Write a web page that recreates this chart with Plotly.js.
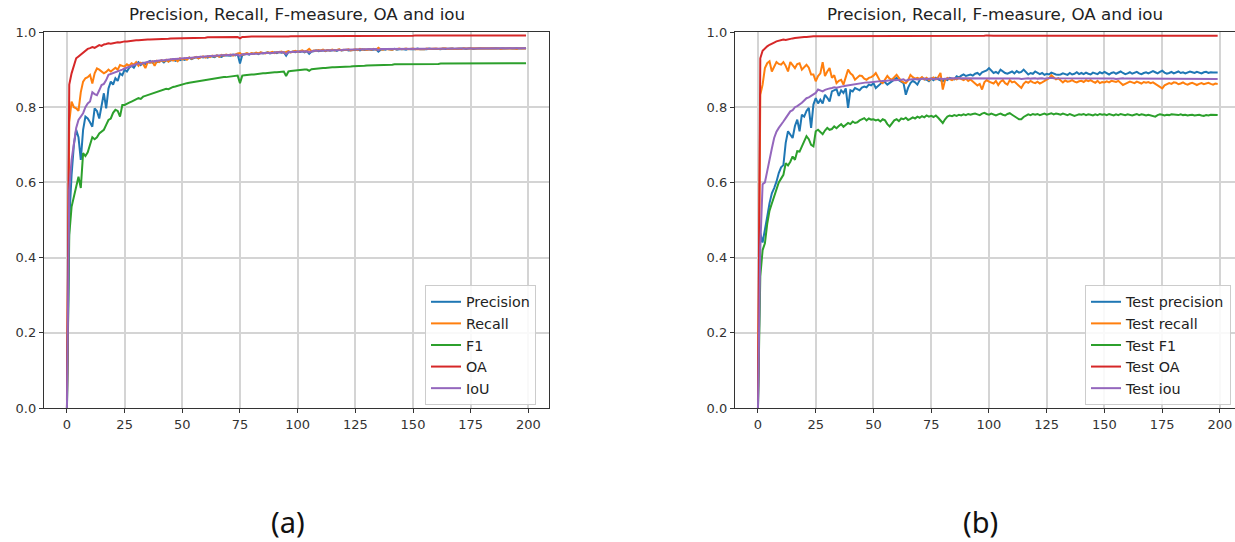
<!DOCTYPE html>
<html>
<head>
<meta charset="utf-8">
<script src="https://cdn.plot.ly/plotly-3.0.1.min.js"></script>
<style>
html,body{margin:0;padding:0;background:#fff;}
#chart{width:1235px;height:542px;}
</style>
</head>
<body>
<div id="chart"></div>
<script>
// ---------- DATA ----------
const epochs = Array.from({length: 200}, (_, i) => i);

const trainPrecision = [
0.0,0.50,0.62,0.70,0.74,0.72,0.66,0.74,0.775,0.77,
0.76,0.748,0.797,0.79,0.77,0.80,0.837,0.797,0.85,0.868,
0.86,0.877,0.87,0.89,0.885,0.90,0.895,0.905,0.91,0.905,
0.915,0.92,0.912,0.918,0.915,0.92,0.923,0.918,0.922,0.92,
0.921,0.924,0.919,0.925,0.922,0.924,0.927,0.923,0.926,0.925,
0.928,0.926,0.93,0.932,0.928,0.931,0.933,0.93,0.934,0.932,
0.934,0.932,0.936,0.935,0.933,0.937,0.936,0.934,0.938,0.937,
0.938,0.937,0.94,0.938,0.941,0.916,0.939,0.941,0.942,0.94,
0.943,0.942,0.944,0.941,0.945,0.943,0.944,0.946,0.943,0.945,
0.946,0.944,0.947,0.945,0.946,0.937,0.947,0.946,0.948,0.946,
0.948,0.947,0.949,0.946,0.949,0.942,0.948,0.949,0.951,0.949,
0.95,0.951,0.949,0.952,0.95,0.951,0.952,0.95,0.953,0.951,
0.952,0.953,0.951,0.952,0.953,0.952,0.953,0.951,0.954,0.952,
0.953,0.954,0.952,0.953,0.954,0.948,0.953,0.954,0.953,0.955,
0.954,0.953,0.955,0.953,0.954,0.955,0.954,0.953,0.955,0.954,
0.955,0.954,0.956,0.954,0.955,0.955,0.954,0.956,0.955,0.955,
0.956,0.955,0.954,0.956,0.955,0.956,0.955,0.956,0.955,0.956,
0.955,0.956,0.956,0.955,0.956,0.957,0.955,0.956,0.956,0.957,
0.956,0.957,0.956,0.956,0.957,0.956,0.957,0.956,0.957,0.957,
0.956,0.957,0.957,0.956,0.957,0.957,0.956,0.957,0.957,0.957
];

const trainRecall = [
0.0,0.76,0.815,0.80,0.797,0.79,0.84,0.868,0.877,0.88,
0.886,0.863,0.89,0.903,0.90,0.895,0.89,0.894,0.90,0.895,
0.90,0.905,0.90,0.912,0.91,0.908,0.914,0.91,0.917,0.913,
0.92,0.91,0.918,0.915,0.904,0.92,0.918,0.922,0.91,0.923,
0.92,0.925,0.922,0.926,0.921,0.927,0.924,0.928,0.922,0.93,
0.927,0.93,0.926,0.932,0.929,0.931,0.934,0.93,0.933,0.935,
0.932,0.936,0.933,0.937,0.935,0.938,0.934,0.939,0.937,0.94,
0.938,0.94,0.937,0.941,0.943,0.944,0.939,0.942,0.944,0.941,
0.944,0.942,0.945,0.943,0.946,0.944,0.943,0.946,0.945,0.947,
0.944,0.947,0.946,0.948,0.945,0.947,0.949,0.946,0.948,0.95,
0.947,0.949,0.951,0.948,0.95,0.955,0.949,0.951,0.95,0.952,
0.951,0.953,0.95,0.952,0.951,0.953,0.951,0.952,0.954,0.951,
0.953,0.952,0.954,0.951,0.953,0.954,0.952,0.955,0.953,0.954,
0.952,0.954,0.953,0.955,0.953,0.958,0.954,0.953,0.955,0.954,
0.955,0.953,0.955,0.954,0.956,0.954,0.955,0.956,0.954,0.955,
0.956,0.954,0.955,0.956,0.955,0.954,0.956,0.955,0.956,0.955,
0.956,0.955,0.956,0.955,0.957,0.955,0.956,0.956,0.955,0.956,
0.956,0.955,0.957,0.956,0.955,0.956,0.957,0.956,0.955,0.956,
0.957,0.956,0.955,0.956,0.957,0.956,0.956,0.957,0.955,0.956,
0.957,0.956,0.956,0.957,0.956,0.955,0.957,0.956,0.956,0.956
];

const trainF1 = [
0.0,0.46,0.535,0.56,0.59,0.615,0.585,0.678,0.67,0.68,
0.70,0.72,0.715,0.72,0.73,0.735,0.74,0.753,0.766,0.77,
0.785,0.793,0.79,0.775,0.806,0.806,0.81,0.812,0.815,0.818,
0.822,0.824,0.822,0.828,0.83,0.832,0.835,0.836,0.84,0.84,
0.843,0.845,0.847,0.849,0.848,0.852,0.854,0.855,0.857,0.86,
0.862,0.862,0.864,0.865,0.866,0.867,0.868,0.869,0.87,0.871,
0.872,0.873,0.874,0.876,0.877,0.877,0.878,0.879,0.88,0.88,
0.881,0.882,0.882,0.883,0.884,0.864,0.884,0.885,0.886,0.886,
0.887,0.887,0.888,0.889,0.889,0.89,0.89,0.891,0.892,0.892,
0.893,0.893,0.894,0.894,0.895,0.883,0.895,0.896,0.897,0.897,
0.898,0.899,0.899,0.9,0.9,0.897,0.901,0.902,0.902,0.903,
0.903,0.904,0.904,0.905,0.905,0.906,0.906,0.906,0.907,0.907,
0.907,0.908,0.908,0.908,0.909,0.909,0.909,0.91,0.91,0.91,
0.911,0.911,0.911,0.912,0.912,0.912,0.912,0.913,0.913,0.913,
0.913,0.913,0.914,0.914,0.914,0.914,0.914,0.914,0.915,0.915,
0.915,0.915,0.915,0.915,0.915,0.915,0.915,0.915,0.915,0.915,
0.915,0.915,0.916,0.916,0.916,0.916,0.916,0.916,0.916,0.916,
0.916,0.916,0.916,0.916,0.916,0.916,0.916,0.916,0.916,0.916,
0.916,0.916,0.916,0.916,0.917,0.916,0.917,0.917,0.917,0.917,
0.917,0.917,0.917,0.917,0.917,0.917,0.917,0.917,0.917,0.917
];

const trainOA = [
0.02,0.86,0.89,0.91,0.93,0.935,0.94,0.945,0.95,0.955,
0.957,0.96,0.958,0.962,0.965,0.963,0.967,0.968,0.97,0.969,
0.971,0.972,0.973,0.972,0.974,0.975,0.975,0.976,0.977,0.977,
0.978,0.978,0.979,0.978,0.979,0.98,0.98,0.98,0.981,0.981,
0.981,0.982,0.982,0.982,0.982,0.983,0.983,0.983,0.983,0.984,
0.984,0.984,0.984,0.984,0.985,0.985,0.985,0.985,0.985,0.985,
0.985,0.986,0.986,0.986,0.986,0.986,0.986,0.986,0.987,0.987,
0.987,0.987,0.987,0.987,0.987,0.983,0.987,0.987,0.988,0.988,
0.988,0.988,0.988,0.988,0.988,0.988,0.988,0.988,0.988,0.988,
0.988,0.988,0.988,0.988,0.988,0.986,0.988,0.989,0.989,0.989,
0.989,0.989,0.989,0.989,0.989,0.988,0.989,0.989,0.989,0.989,
0.989,0.99,0.989,0.99,0.99,0.99,0.99,0.99,0.99,0.99,
0.99,0.99,0.99,0.99,0.99,0.99,0.99,0.99,0.99,0.99,
0.99,0.99,0.99,0.99,0.99,0.989,0.99,0.99,0.99,0.99,
0.99,0.99,0.99,0.99,0.99,0.99,0.99,0.99,0.99,0.99,
0.99,0.991,0.99,0.991,0.991,0.991,0.991,0.991,0.991,0.991,
0.991,0.991,0.991,0.991,0.991,0.991,0.991,0.991,0.991,0.991,
0.991,0.991,0.991,0.991,0.991,0.991,0.991,0.991,0.991,0.991,
0.991,0.991,0.991,0.991,0.991,0.991,0.991,0.991,0.991,0.991,
0.991,0.991,0.991,0.991,0.991,0.991,0.991,0.991,0.991,0.991
];

const trainIoU = [
0.0,0.58,0.66,0.71,0.745,0.766,0.775,0.784,0.80,0.81,
0.815,0.84,0.835,0.832,0.845,0.859,0.862,0.872,0.886,0.888,
0.89,0.894,0.895,0.898,0.90,0.903,0.905,0.907,0.909,0.911,
0.913,0.917,0.915,0.918,0.919,0.92,0.921,0.922,0.922,0.923,
0.924,0.925,0.925,0.926,0.927,0.927,0.928,0.928,0.929,0.929,
0.93,0.93,0.931,0.931,0.932,0.932,0.933,0.933,0.934,0.934,
0.935,0.935,0.936,0.936,0.937,0.937,0.937,0.938,0.938,0.938,
0.939,0.939,0.94,0.94,0.94,0.936,0.941,0.941,0.941,0.942,
0.942,0.942,0.943,0.943,0.943,0.944,0.944,0.944,0.945,0.945,
0.945,0.946,0.946,0.946,0.946,0.941,0.947,0.947,0.947,0.948,
0.948,0.948,0.948,0.949,0.949,0.946,0.949,0.95,0.95,0.95,
0.95,0.951,0.951,0.951,0.951,0.952,0.952,0.952,0.952,0.952,
0.953,0.953,0.953,0.953,0.953,0.954,0.954,0.954,0.954,0.954,
0.954,0.954,0.954,0.955,0.955,0.952,0.955,0.955,0.955,0.955,
0.955,0.955,0.955,0.955,0.955,0.956,0.956,0.956,0.956,0.956,
0.956,0.956,0.956,0.956,0.956,0.956,0.956,0.956,0.956,0.956,
0.956,0.956,0.956,0.956,0.956,0.956,0.956,0.956,0.956,0.956,
0.956,0.956,0.956,0.956,0.956,0.957,0.956,0.956,0.957,0.956,
0.957,0.956,0.957,0.957,0.956,0.957,0.957,0.957,0.956,0.957,
0.957,0.957,0.957,0.957,0.957,0.957,0.957,0.957,0.957,0.957
];

const testPrecision = [
0.0,0.465,0.44,0.47,0.509,0.545,0.571,0.585,0.602,0.625,
0.64,0.646,0.705,0.736,0.728,0.718,0.75,0.767,0.736,0.78,
0.775,0.79,0.798,0.745,0.807,0.824,0.81,0.82,0.81,0.833,
0.825,0.815,0.842,0.845,0.848,0.83,0.845,0.838,0.85,0.798,
0.845,0.842,0.851,0.848,0.845,0.852,0.855,0.853,0.86,0.858,
0.864,0.851,0.856,0.862,0.869,0.866,0.86,0.864,0.87,0.874,
0.878,0.872,0.868,0.864,0.833,0.852,0.864,0.87,0.866,0.86,
0.872,0.878,0.874,0.873,0.869,0.876,0.872,0.878,0.874,0.872,
0.869,0.875,0.872,0.878,0.876,0.874,0.882,0.879,0.884,0.887,
0.883,0.886,0.887,0.884,0.889,0.891,0.886,0.893,0.895,0.898,
0.904,0.897,0.891,0.894,0.89,0.9,0.895,0.891,0.889,0.893,
0.895,0.89,0.896,0.892,0.894,0.9,0.893,0.887,0.891,0.889,
0.895,0.892,0.888,0.891,0.886,0.889,0.887,0.892,0.889,0.887,
0.886,0.887,0.89,0.888,0.886,0.891,0.887,0.889,0.893,0.888,
0.891,0.888,0.892,0.889,0.887,0.892,0.89,0.888,0.893,0.89,
0.894,0.89,0.887,0.891,0.893,0.889,0.892,0.895,0.891,0.888,
0.89,0.893,0.889,0.892,0.894,0.89,0.888,0.891,0.893,0.89,
0.892,0.896,0.893,0.89,0.894,0.897,0.892,0.889,0.891,0.894,
0.89,0.893,0.895,0.891,0.893,0.89,0.892,0.895,0.893,0.891,
0.894,0.892,0.89,0.893,0.894,0.891,0.893,0.892,0.891,0.892
];

const testRecall = [
0.0,0.833,0.86,0.904,0.917,0.922,0.895,0.91,0.92,0.915,
0.913,0.92,0.91,0.895,0.92,0.912,0.904,0.915,0.917,0.90,
0.908,0.913,0.905,0.887,0.887,0.869,0.883,0.89,0.92,0.883,
0.895,0.904,0.878,0.885,0.864,0.87,0.873,0.86,0.88,0.90,
0.89,0.885,0.873,0.88,0.884,0.883,0.876,0.873,0.878,0.88,
0.884,0.891,0.878,0.868,0.864,0.875,0.883,0.876,0.873,0.88,
0.886,0.878,0.87,0.866,0.864,0.872,0.886,0.88,0.876,0.878,
0.875,0.88,0.874,0.878,0.872,0.876,0.879,0.874,0.88,0.891,
0.847,0.872,0.878,0.875,0.872,0.876,0.874,0.878,0.875,0.872,
0.876,0.87,0.874,0.868,0.864,0.858,0.862,0.847,0.866,0.872,
0.868,0.866,0.863,0.87,0.859,0.868,0.872,0.864,0.86,0.872,
0.866,0.868,0.862,0.856,0.851,0.862,0.868,0.865,0.87,0.866,
0.864,0.868,0.863,0.866,0.87,0.872,0.877,0.885,0.878,0.874,
0.877,0.872,0.866,0.871,0.868,0.869,0.872,0.868,0.866,0.869,
0.87,0.867,0.872,0.869,0.872,0.868,0.865,0.87,0.864,0.867,
0.866,0.869,0.866,0.87,0.868,0.867,0.87,0.865,0.859,0.862,
0.866,0.868,0.866,0.864,0.868,0.866,0.863,0.867,0.865,0.867,
0.864,0.866,0.862,0.858,0.856,0.85,0.858,0.862,0.864,0.862,
0.866,0.865,0.861,0.863,0.866,0.862,0.86,0.863,0.865,0.862,
0.859,0.862,0.864,0.861,0.863,0.865,0.862,0.86,0.863,0.862
];

const testF1 = [
0.0,0.35,0.42,0.438,0.49,0.525,0.544,0.565,0.58,0.60,
0.61,0.62,0.651,0.645,0.655,0.669,0.66,0.683,0.682,0.695,
0.71,0.723,0.715,0.70,0.696,0.736,0.74,0.733,0.728,0.738,
0.745,0.74,0.742,0.749,0.744,0.75,0.755,0.748,0.752,0.758,
0.755,0.762,0.758,0.76,0.765,0.768,0.771,0.765,0.77,0.767,
0.768,0.765,0.767,0.762,0.768,0.765,0.755,0.749,0.758,0.765,
0.768,0.763,0.77,0.768,0.772,0.766,0.769,0.773,0.77,0.775,
0.772,0.776,0.773,0.778,0.775,0.777,0.774,0.778,0.772,0.765,
0.758,0.768,0.775,0.778,0.776,0.779,0.777,0.78,0.778,0.781,
0.779,0.782,0.78,0.782,0.783,0.781,0.779,0.783,0.785,0.782,
0.78,0.783,0.781,0.778,0.781,0.783,0.78,0.778,0.782,0.784,
0.78,0.777,0.772,0.768,0.768,0.774,0.778,0.781,0.779,0.782,
0.78,0.782,0.779,0.781,0.783,0.78,0.782,0.784,0.781,0.783,
0.782,0.78,0.783,0.781,0.779,0.782,0.78,0.777,0.779,0.781,
0.78,0.782,0.779,0.781,0.78,0.778,0.781,0.779,0.782,0.78,
0.781,0.779,0.782,0.78,0.778,0.781,0.779,0.782,0.78,0.779,
0.781,0.78,0.778,0.78,0.782,0.779,0.781,0.78,0.778,0.78,
0.779,0.777,0.775,0.779,0.781,0.78,0.778,0.78,0.779,0.781,
0.78,0.778,0.779,0.781,0.779,0.78,0.778,0.779,0.78,0.778,
0.779,0.78,0.778,0.777,0.779,0.778,0.78,0.779,0.778,0.779
];

const testOA = [
0.02,0.93,0.95,0.957,0.962,0.966,0.97,0.972,0.975,0.977,
0.978,0.98,0.979,0.981,0.982,0.983,0.984,0.985,0.986,0.986,
0.987,0.987,0.988,0.988,0.989,0.989,0.989,0.99,0.989,0.99,
0.99,0.99,0.989,0.99,0.99,0.99,0.99,0.99,0.99,0.99,
0.99,0.99,0.99,0.99,0.99,0.99,0.989,0.99,0.99,0.99,
0.99,0.99,0.99,0.99,0.99,0.99,0.99,0.99,0.99,0.99,
0.99,0.99,0.99,0.99,0.989,0.99,0.99,0.99,0.99,0.99,
0.99,0.99,0.99,0.99,0.99,0.99,0.99,0.99,0.99,0.99,
0.99,0.99,0.99,0.99,0.99,0.99,0.99,0.99,0.99,0.99,
0.99,0.99,0.99,0.99,0.99,0.99,0.99,0.99,0.99,0.991,
0.99,0.99,0.99,0.99,0.99,0.99,0.99,0.99,0.99,0.99,
0.99,0.99,0.99,0.99,0.99,0.99,0.99,0.99,0.99,0.99,
0.99,0.99,0.99,0.99,0.99,0.99,0.99,0.99,0.99,0.99,
0.99,0.99,0.99,0.99,0.99,0.99,0.99,0.99,0.99,0.99,
0.99,0.99,0.99,0.99,0.99,0.99,0.99,0.99,0.99,0.99,
0.99,0.99,0.99,0.99,0.99,0.99,0.99,0.99,0.99,0.99,
0.99,0.99,0.99,0.99,0.99,0.99,0.99,0.99,0.99,0.99,
0.99,0.99,0.99,0.99,0.99,0.99,0.99,0.99,0.99,0.99,
0.99,0.99,0.99,0.99,0.99,0.99,0.99,0.99,0.99,0.99,
0.99,0.99,0.99,0.99,0.99,0.99,0.99,0.99,0.99,0.99
];

const testIoU = [
0.0,0.43,0.595,0.60,0.63,0.665,0.69,0.718,0.735,0.745,
0.755,0.762,0.771,0.78,0.789,0.792,0.80,0.803,0.807,0.812,
0.818,0.824,0.826,0.83,0.834,0.838,0.847,0.845,0.842,0.846,
0.849,0.85,0.851,0.853,0.852,0.854,0.855,0.856,0.857,0.858,
0.859,0.86,0.862,0.863,0.864,0.864,0.865,0.866,0.866,0.867,
0.868,0.868,0.869,0.869,0.87,0.87,0.871,0.871,0.872,0.872,
0.873,0.872,0.873,0.874,0.87,0.873,0.874,0.874,0.875,0.874,
0.875,0.875,0.876,0.875,0.876,0.876,0.875,0.876,0.877,0.876,
0.875,0.876,0.877,0.876,0.877,0.877,0.876,0.877,0.878,0.877,
0.877,0.878,0.877,0.877,0.878,0.878,0.877,0.876,0.877,0.878,
0.878,0.877,0.877,0.878,0.877,0.876,0.877,0.877,0.878,0.877,
0.876,0.877,0.877,0.876,0.875,0.876,0.877,0.877,0.876,0.877,
0.877,0.876,0.877,0.877,0.876,0.877,0.878,0.878,0.877,0.877,
0.878,0.877,0.877,0.876,0.877,0.877,0.876,0.877,0.877,0.876,
0.877,0.876,0.877,0.877,0.876,0.876,0.877,0.876,0.876,0.877,
0.876,0.876,0.877,0.876,0.876,0.875,0.876,0.876,0.877,0.876,
0.876,0.875,0.876,0.876,0.875,0.876,0.876,0.875,0.876,0.876,
0.875,0.876,0.876,0.875,0.876,0.875,0.875,0.876,0.875,0.875,
0.876,0.875,0.875,0.876,0.875,0.875,0.876,0.875,0.875,0.875,
0.875,0.876,0.875,0.875,0.875,0.876,0.875,0.875,0.875,0.875
];

const xTicks = [0, 25, 50, 75, 100, 125, 150, 175, 200];
const yTicks = [0, 0.2, 0.4, 0.6, 0.8, 1.0];
const leftNames = ['Precision', 'Recall', 'F1', 'OA', 'IoU'];
const rightNames = ['Test precision', 'Test recall', 'Test F1', 'Test OA', 'Test iou'];
const chartTitle = 'Precision, Recall, F-measure, OA and iou';
const panelLabels = ['(a)', '(b)'];

// ---------- STYLE ----------
const colors = ['#1f77b4', '#ff7f0e', '#2ca02c', '#d62728', '#9467bd'];
const W = 1235, H = 542;
const font = 'DejaVu Sans, sans-serif';

const leftSeries = [trainPrecision, trainRecall, trainF1, trainOA, trainIoU];
const rightSeries = [testPrecision, testRecall, testF1, testOA, testIoU];

const traces = [];
leftSeries.forEach((s, i) => traces.push({
  x: epochs, y: s, type: 'scatter', mode: 'lines', name: leftNames[i],
  line: {color: colors[i], width: 2}, xaxis: 'x', yaxis: 'y', legend: 'legend'
}));
rightSeries.forEach((s, i) => traces.push({
  x: epochs, y: s, type: 'scatter', mode: 'lines', name: rightNames[i],
  line: {color: colors[i], width: 2}, xaxis: 'x2', yaxis: 'y2', legend: 'legend2'
}));

const yDom = [(H - 408) / H, (H - 32) / H];
function xAx(domain, range, anchor, mirror) {
  return {
    domain: domain, range: range, anchor: anchor,
    tickmode: 'array', tickvals: xTicks, ticktext: xTicks.map(String),
    showgrid: true, gridcolor: '#d4d4d4', gridwidth: 2,
    showline: true, linecolor: '#333', linewidth: 1.2, mirror: mirror,
    ticks: 'outside', ticklen: 4, tickwidth: 1, tickcolor: '#333',
    tickfont: {family: font, size: 13, color: '#333'}, zeroline: false, fixedrange: true
  };
}
function yAx(anchor, mirror) {
  return {
    domain: yDom, range: [0, 1], anchor: anchor,
    tickmode: 'array', tickvals: yTicks, ticktext: yTicks.map(v => v.toFixed(1)),
    showgrid: true, gridcolor: '#d4d4d4', gridwidth: 2,
    showline: true, linecolor: '#333', linewidth: 1.2, mirror: mirror,
    ticks: 'outside', ticklen: 4, tickwidth: 1, tickcolor: '#333',
    tickfont: {family: font, size: 13, color: '#333'}, zeroline: false, fixedrange: true
  };
}

const legendStyle = (x) => ({
  x: x, y: (H - 285) / H, xanchor: 'left', yanchor: 'top',
  xref: 'paper', yref: 'paper',
  bgcolor: 'rgba(255,255,255,0.85)', bordercolor: '#cccccc', borderwidth: 1,
  font: {family: font, size: 14.3, color: '#222'}, itemwidth: 30, tracegroupgap: 0
});

const layout = {
  width: W, height: H,
  margin: {l: 0, r: 0, t: 0, b: 0},
  paper_bgcolor: '#ffffff', plot_bgcolor: '#ffffff',
  showlegend: true,
  xaxis: xAx([44 / W, 549 / W], [-9.95, 208.95], 'y', true),
  yaxis: yAx('x', true),
  xaxis2: xAx([735 / W, 1], [-9.95, 206.5], 'y2', true),
  yaxis2: yAx('x2', false),
  legend: legendStyle(425 / W),
  legend2: legendStyle(1085 / W),
  annotations: [
    {text: chartTitle, xref: 'paper', yref: 'paper', x: 297 / W, y: (H - 14) / H,
     xanchor: 'center', yanchor: 'middle', showarrow: false,
     font: {family: font, size: 16.7, color: '#222'}},
    {text: chartTitle, xref: 'paper', yref: 'paper', x: 995 / W, y: (H - 14) / H,
     xanchor: 'center', yanchor: 'middle', showarrow: false,
     font: {family: font, size: 16.7, color: '#222'}},
    {text: panelLabels[0], xref: 'paper', yref: 'paper', x: 288 / W, y: (H - 521) / H,
     xanchor: 'center', yanchor: 'middle', showarrow: false,
     font: {family: 'Noto Sans, sans-serif', size: 29, color: '#111'}},
    {text: panelLabels[1], xref: 'paper', yref: 'paper', x: 980 / W, y: (H - 521) / H,
     xanchor: 'center', yanchor: 'middle', showarrow: false,
     font: {family: 'Noto Sans, sans-serif', size: 29, color: '#111'}}
  ]
};

Plotly.newPlot('chart', traces, layout, {displayModeBar: false, staticPlot: true});
</script>
</body>
</html>
